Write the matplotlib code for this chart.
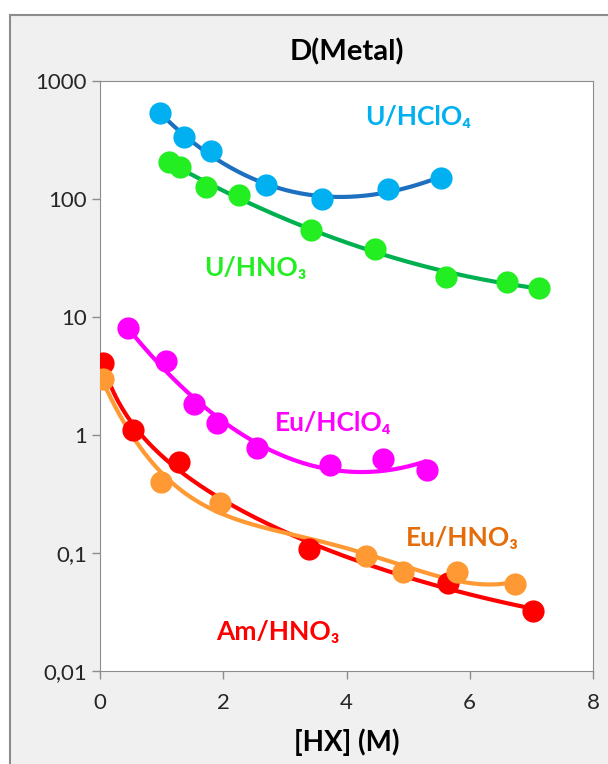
import numpy as np
import matplotlib.pyplot as plt
from matplotlib.patches import Rectangle
from matplotlib.ticker import FixedLocator, FixedFormatter, NullLocator

# data
u_hclo4_x = [0.97, 1.36, 1.80, 2.69, 3.61, 4.68, 5.53]
u_hclo4_y = [536, 335, 255, 131, 100, 122, 151]

u_hno3_x = [1.12, 1.30, 1.72, 2.25, 3.42, 4.47, 5.62, 6.60, 7.13]
u_hno3_y = [206, 187, 126, 108, 55, 38, 21.8, 19.8, 17.6]

eu_hclo4_x = [0.45, 1.07, 1.52, 1.90, 2.54, 3.73, 4.59, 5.30]
eu_hclo4_y = [8.07, 4.24, 1.83, 1.26, 0.776, 0.557, 0.627, 0.505]

am_hno3_x = [0.05, 0.53, 1.28, 3.39, 5.64, 7.03]
am_hno3_y = [4.07, 1.10, 0.59, 0.108, 0.0557, 0.0322]

eu_hno3_x = [0.05, 0.99, 1.94, 4.31, 4.91, 5.79, 6.73]
eu_hno3_y = [2.98, 0.40, 0.265, 0.094, 0.069, 0.069, 0.0545]

yticks = [0.01, 0.1, 1, 10, 100, 1000]
ytick_labels = ["0,01", "0,1", "1", "10", "100", "1000"]
xticks = [0, 2, 4, 6, 8]

plt.rcParams['font.family'] = ['Lato', 'DejaVu Sans']

fig = plt.figure(figsize=(6.08, 7.64), dpi=100, facecolor='white')
# chart frame
frame = Rectangle((10/608, -0.01), 1.0, (764-15)/764 + 0.01,
                  transform=fig.transFigure, facecolor='#f0f0f0',
                  edgecolor='#8c8c8c', linewidth=1.5, zorder=-5)
fig.add_artist(frame)
ax = fig.add_axes([100/608, 1 - 671/764, 493/608, 590/764])
ax.set_facecolor('white')
ax.set_yscale('log')
ax.set_xlim(0, 8)
ax.set_ylim(0.01, 1000)


def basis(x, kind):
    if kind == 'logx':
        return np.column_stack([np.ones_like(x), x, x**2, np.log(x + 0.2)])
    return np.vander(x, kind + 1)


def trend(x, y, kind, color):
    # smooth trend fitted to log10(D)
    x = np.asarray(x, float)
    t = np.log10(np.asarray(y, float))
    coef = np.linalg.lstsq(basis(x, kind), t, rcond=None)[0]
    xs = np.linspace(x.min(), x.max(), 200)
    ax.plot(xs, 10**(basis(xs, kind) @ coef), color=color, lw=3, zorder=2,
            solid_capstyle='butt')


series = [
    (u_hclo4_x, u_hclo4_y, '#00b0f0', '#1f6fc0', 3),
    (u_hno3_x, u_hno3_y, '#22ee22', '#00b050', 2),
    (eu_hclo4_x, eu_hclo4_y, '#ff00ff', '#ff00ff', 2),
    (am_hno3_x, am_hno3_y, '#ff0000', '#ff0000', 'logx'),
    (eu_hno3_x, eu_hno3_y, '#ff9933', '#ff9933', 4),
]
for x, y, mc, lc, kind in series:
    trend(x, y, kind, lc)
for x, y, mc, lc, kind in series:
    ax.plot(x, y, 'o', color=mc, markersize=16, markeredgewidth=0, zorder=3)

labels = [
    (0.645, 0.939, 'U/HClO₄', '#00b0f0'),
    (0.316, 0.683, 'U/HNO₃', '#22ee22'),
    (0.473, 0.420, 'Eu/HClO₄', '#ff00ff'),
    (0.736, 0.225, 'Eu/HNO₃', '#e46c0a'),
    (0.361, 0.066, 'Am/HNO₃', '#ff0000'),
]
for tx, ty, s, c in labels:
    ax.text(tx, ty, s, transform=ax.transAxes, color=c, fontsize=19,
            fontweight='bold', ha='center', va='center')

ax.yaxis.set_major_locator(FixedLocator(yticks))
ax.yaxis.set_major_formatter(FixedFormatter(ytick_labels))
ax.yaxis.set_minor_locator(NullLocator())
ax.set_xticks(xticks)
for sp in ax.spines.values():
    sp.set_color('#8c8c8c')
ax.tick_params(colors='#8c8c8c', labelcolor='#262626', labelsize=16, length=6, width=1)
ax.tick_params(axis='x', pad=10)

ax.set_title('D(Metal)', fontsize=21, fontweight='bold', pad=15)
ax.set_xlabel('[HX] (M)', fontsize=20, fontweight='bold', labelpad=11)

fig.savefig('out.png', dpi=100, facecolor=fig.get_facecolor())
